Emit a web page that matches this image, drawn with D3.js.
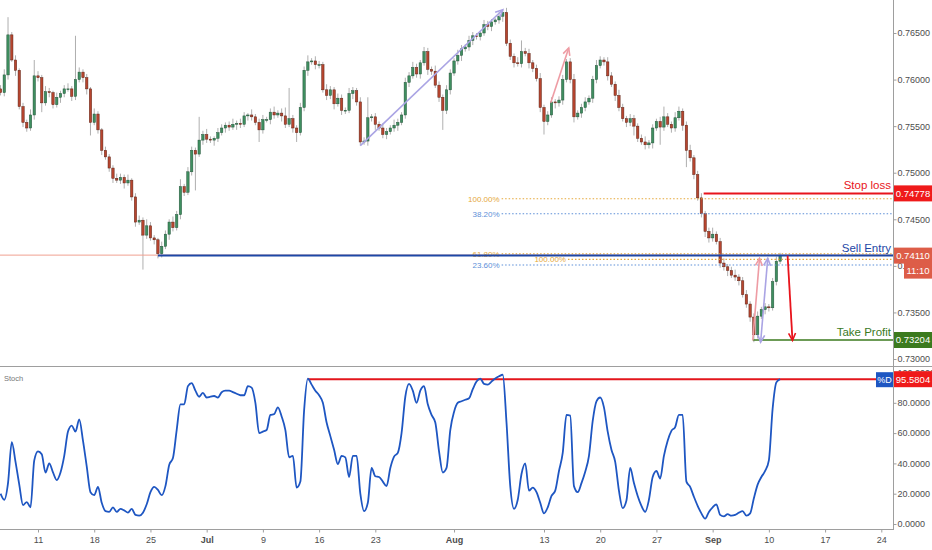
<!DOCTYPE html>
<html>
<head>
<meta charset="utf-8">
<script src="https://cdn.jsdelivr.net/npm/d3@7"></script>
<style>
  html, body { margin: 0; padding: 0; background: #fff; }
  svg { display: block; font-family: "Liberation Sans", Arial, sans-serif; }
</style>
</head>
<body>
<svg id="chart" width="932" height="550"></svg>
<script>
// prices in pips (7586 = 0.75860), one candle every 8h of trading time
const firstOpen = 7590;
const closes = [
  7586,7605,7648,7621,7610,7571,7554,7548,7562,7604,
  7602,7575,7587,7586,7573,7581,7585,7590,7590,7582,
  7600,7608,7602,7590,7554,7563,7546,7524,7517,7505,
  7494,7492,7495,7489,7492,7474,7447,7449,7433,7443,
  7430,7428,7413,7421,7434,7447,7441,7455,7485,7479,
  7501,7524,7520,7535,7541,7536,7535,7537,7543,7548,
  7551,7549,7552,7553,7552,7561,7562,7560,7554,7546,
  7557,7557,7565,7562,7564,7561,7552,7558,7548,7543,
  7570,7610,7619,7620,7616,7616,7589,7583,7589,7574,
  7580,7567,7567,7585,7588,7576,7533,7534,7559,7560,
  7552,7548,7541,7544,7548,7551,7554,7562,7597,7604,
  7613,7606,7618,7630,7611,7609,7594,7581,7567,7589,
  7607,7620,7626,7633,7635,7642,7647,7646,7650,7659,
  7657,7662,7664,7668,7672,7639,7625,7618,7617,7630,
  7628,7618,7612,7601,7570,7555,7562,7576,7575,7578,
  7600,7619,7600,7560,7564,7570,7576,7580,7600,7615,
  7621,7619,7604,7595,7583,7570,7558,7554,7558,7550,
  7537,7533,7530,7532,7548,7555,7549,7560,7552,7548,
  7559,7566,7551,7524,7516,7498,7473,7456,7437,7430,
  7434,7426,7403,7399,7395,7390,7388,7384,7369,7359,
  7345,7326,7346,7353,7356,7355,7383,7405,7411
];
// wick length above / below the body, in pips
const wickHi = [
  4,6,19,3,5,2,4,3,6,17, 5,3,6,4,2,5,3,4,6,3, 47,5,3,4,2,6,3,2,4,3,
  3,5,4,3,6,2,4,5,3,7, 4,3,2,5,4,3,6,4,8,3, 5,4,3,25,4,6,3,2,5,4,
  3,4,6,3,5,4,2,6,3,4, 5,3,4,6,3,5,9,33,4,3, 5,4,7,3,5,4,3,6,4,3,
  5,4,3,6,4,3,5,4,22,3, 4,3,5,4,3,6,4,3,5,4, 6,4,3,5,4,3,6,4,3,5,
  4,3,6,4,3,5,4,3,2,5, 4,3,2,4,3,5,4,3,6,12, 4,5,3,4,6,3,4,5,3,4,
  5,3,4,6,3,4,5,3,4,6, 4,3,5,4,3,6,4,3,5,4, 3,4,6,3,4,3,5,11,4,3,
  6,5,3,4,6,3,4,5,3,4, 7,3,4,5,3,4,6,3,4,5, 3,4,5,3,4,3,4,5,3
];
const wickLo = [
  3,4,5,2,6,3,5,4,3,5, 4,10,3,5,4,3,6,4,3,5, 4,3,5,6,14,3,4,5,3,4,
  5,3,4,6,3,4,5,3,37,4, 3,5,5,4,3,6,4,3,5,4, 3,4,39,3,5,4,3,6,4,3,
  5,4,3,6,4,3,5,4,3,13, 4,3,5,4,3,6,4,3,5,10, 3,4,6,3,5,4,3,5,4,6,
  3,5,4,3,6,4,4,3,5,4, 6,3,4,5,3,4,6,3,4,5, 3,4,5,3,6,4,3,5,21,4,
  5,3,4,6,3,4,5,3,4,3, 4,5,3,4,6,3,4,5,3,4, 3,6,4,3,5,14,4,3,6,4,
  5,3,4,6,3,5,4,3,5,4, 3,4,5,3,6,4,3,5,4,10, 4,3,5,4,6,3,19,4,3,5,
  4,3,6,18,4,5,3,4,6,5, 4,3,5,4,6,3,4,5,3,4, 5,8,4,3,5,4,3,4,3
];
// Stochastic %D, one value per candle
const stochD = [
  20,16,27,54,41,26,12.5,14.5,11,42,
  48,46,34,40,34,29,34,45,61,65,
  61,69,55,38,21,19,24.5,14,8.5,8,
  11,8,10,9,7.5,10,6,5.5,7.5,13,
  21,24.5,22.5,19,25,39,43.5,62,79,79,
  91,93,88,84,86.5,83.5,84,84.5,83.5,87,
  88,88,87,86,85,85,91,90,80,60,
  61,62,72,72.5,77,71,62,44,45,24,
  28,75,96,92,88,85,80,67,58,49,
  39.5,45,44,31,45,45,20,8.5,14,37,
  31.5,31,28,25,37,44.5,47,60,84,92.5,
  88,80,88,91,79,72,67,48,34,37,
  62,74,80,81,82,83,89,94,96,92.5,
  92,94,96,97.5,98.5,67,25,10,16,33,
  40,22,24,21,14,7,11,18.5,22,35,
  47,72,71.5,25,21,27,34.5,45,68,81,
  83.5,77,61,49,41,22,10.5,15.5,37,27,
  18.5,12,8,16,31,35,30,45,55,61.5,
  64,72,72,28,24.5,18,12,7,3.5,8,
  11,13,6,5,6.5,5.5,6,7.5,8.5,5.5,
  7,17,26,31,35,42,76,93.5,95.58
];

// time axis (trading days counted from Mon 11 Jun)
const tickDays   = [0, 5, 10, 15, 20, 25, 30, 37, 45, 50, 55, 60, 65, 70, 75];
const tickLabels = ['11','18','25','Jul','9','16','23','Aug','13','20','27','Sep','10','17','24'];
const monthLabels = ['Jul','Aug','Sep'];

const priceTicks = [7300, 7350, 7400, 7450, 7500, 7550, 7600, 7650];
const stochTicks = [0, 20, 40, 60, 80, 100];

// trade levels
const levelNames  = ['Stop loss', 'Sell Entry', 'Take Profit'];
const levelPrices = [7477.8, 7411.0, 7320.4];
const levelStartK = [187.6, 42, 200.7];
const levelColors = ['#e8141c', '#1d47a6', '#3b7a1e'];
const levelBoxColors = ['#ef1a1a', '#dd5d48', '#3b7a1e'];

// fibonacci levels
const fibLabels = ['100.00%', '38.20%', '61.80%', '100.00%', '23.60%'];
const fibPrices = [7472, 7456, 7413, 7407, 7401];
const fibStartK = [133.7, 133.7, 133.7, 151.4, 133.7];
const fibColors = ['#e5a83a', '#5d8fd8', '#e5a83a', '#e5a83a', '#5d8fd8'];

// drawn arrows (candle index, price)
const arrowFromK = [96, 146.8, 200.7, 202.8, 210];
const arrowFromP = [7529, 7575, 7320, 7318, 7411];
const arrowToK   = [134, 151.6, 202.5, 204.7, 211.3];
const arrowToP   = [7675, 7634, 7408, 7408, 7320];
const arrowColors = ['#aaa4e4', '#ee9ca4', '#ee9ca4', '#aaa4e4', '#e8141c'];
const arrowBoth   = [false, false, false, true, false];

const stochLevel = 95.5804;
const stochLevelStartK = 82;

const W = 932, H = 550, AX = 893;
const START_DAY = -10 / 3;

const svg = d3.select('#chart');
svg.append('rect').attr('width', W).attr('height', H).attr('fill', '#fff');

const x  = d3.scaleLinear().domain([-3.38, 76.04]).range([0, AX]);
const y  = d3.scaleLinear().domain([7300, 7650]).range([359, 33]);
const ys = d3.scaleLinear().domain([0, 100]).range([524, 372.5]);
function kx(k) { return x(START_DAY + k / 3); }

const defs = svg.append('defs');
defs.append('clipPath').attr('id', 'mainClip').append('rect')
    .attr('x', 0).attr('y', 0).attr('width', AX).attr('height', 366);
defs.append('clipPath').attr('id', 'stochClip').append('rect')
    .attr('x', 0).attr('y', 367).attr('width', AX).attr('height', 161);

const main = svg.append('g').attr('clip-path', 'url(#mainClip)');

// ===== candles =====
const candles = closes.map(function (c, i) {
    var o = i ? closes[i - 1] : firstOpen;
    return { k: i, o: o, c: c, h: Math.max(o, c) + wickHi[i], l: Math.min(o, c) - wickLo[i] };
});

main.selectAll('line.wick').data(candles).join('line')
    .attr('class', 'wick')
    .attr('x1', d => kx(d.k)).attr('x2', d => kx(d.k))
    .attr('y1', d => y(d.h)).attr('y2', d => y(d.l))
    .attr('stroke', '#9a9a9a').attr('stroke-width', 0.8);

main.selectAll('rect.body').data(candles).join('rect')
    .attr('class', 'body')
    .attr('x', d => kx(d.k) - 1.2).attr('width', 2.4)
    .attr('y', d => y(Math.max(d.o, d.c)))
    .attr('height', d => Math.max(0.8, Math.abs(y(d.o) - y(d.c))))
    .attr('fill', d => d.c >= d.o ? '#3f8f60' : '#b7452f')
    .attr('stroke', d => d.c >= d.o ? '#24543a' : '#5e2417')
    .attr('stroke-width', 0.5);

// ===== last price line =====
main.append('line')
    .attr('x1', 0).attr('x2', AX)
    .attr('y1', y(closes[closes.length - 1]) - 0.5).attr('y2', y(closes[closes.length - 1]) - 0.5)
    .attr('stroke', '#f0a090').attr('stroke-width', 1);

// ===== fib levels =====
fibPrices.forEach(function (p, i) {
    main.append('line')
        .attr('x1', kx(fibStartK[i])).attr('x2', AX)
        .attr('y1', y(p)).attr('y2', y(p))
        .attr('stroke', fibColors[i]).attr('stroke-width', 1.1)
        .attr('stroke-dasharray', '1.5,2');
    main.append('text')
        .attr('x', kx(fibStartK[i]) - 2).attr('y', y(p) + 3)
        .attr('text-anchor', 'end')
        .attr('font-size', 8).attr('fill', fibColors[i])
        .text(fibLabels[i]);
});

// ===== trade levels =====
levelPrices.forEach(function (p, i) {
    main.append('line')
        .attr('x1', kx(levelStartK[i])).attr('x2', AX)
        .attr('y1', y(p)).attr('y2', y(p))
        .attr('stroke', levelColors[i]).attr('stroke-width', i === 2 ? 1.5 : 2);
    main.append('text')
        .attr('x', 891).attr('y', y(p) - 4)
        .attr('text-anchor', 'end')
        .attr('font-size', 11.5).attr('fill', levelColors[i])
        .text(levelNames[i]);
});

// ===== arrows =====
function chevron(g, x1, y1, x2, y2, color) {
    var a = Math.atan2(y1 - y2, x1 - x2), len = 8, sp = 0.45;
    g.append('path')
        .attr('d', 'M' + (x2 + len * Math.cos(a + sp)) + ',' + (y2 + len * Math.sin(a + sp)) +
                   'L' + x2 + ',' + y2 +
                   'L' + (x2 + len * Math.cos(a - sp)) + ',' + (y2 + len * Math.sin(a - sp)))
        .attr('fill', 'none').attr('stroke', color).attr('stroke-width', 1.6);
}
arrowFromK.forEach(function (k, i) {
    var x1 = kx(k), y1 = y(arrowFromP[i]), x2 = kx(arrowToK[i]), y2 = y(arrowToP[i]);
    main.append('line')
        .attr('x1', x1).attr('y1', y1).attr('x2', x2).attr('y2', y2)
        .attr('stroke', arrowColors[i]).attr('stroke-width', i === 4 ? 1.8 : 1.6);
    chevron(main, x1, y1, x2, y2, arrowColors[i]);
    if (arrowBoth[i]) chevron(main, x2, y2, x1, y1, arrowColors[i]);
});

// ===== stochastic pane =====
const stochG = svg.append('g').attr('clip-path', 'url(#stochClip)');
stochG.append('line')
    .attr('x1', kx(stochLevelStartK)).attr('x2', AX)
    .attr('y1', ys(stochLevel)).attr('y2', ys(stochLevel))
    .attr('stroke', '#e3161c').attr('stroke-width', 2);

const stochLine = d3.line()
    .x((d, i) => kx(i))
    .y(d => ys(d))
    .curve(d3.curveMonotoneX);
stochG.append('path')
    .datum(stochD)
    .attr('d', stochLine)
    .attr('fill', 'none').attr('stroke', '#1e56c2').attr('stroke-width', 1.8);

svg.append('text').attr('x', 4).attr('y', 381)
    .attr('font-size', 7.5).attr('fill', '#777').text('Stoch');

// ===== frame lines =====
svg.append('line').attr('x1', 0).attr('x2', W).attr('y1', 366.5).attr('y2', 366.5)
    .attr('stroke', '#9e9e9e').attr('stroke-width', 1);
svg.append('line').attr('x1', AX + 0.5).attr('x2', AX + 0.5).attr('y1', 0).attr('y2', 529)
    .attr('stroke', '#9e9e9e').attr('stroke-width', 1);

// ===== right axes =====
const priceAxis = d3.axisRight(y).tickValues(priceTicks).tickSize(3)
    .tickFormat(d => (d / 10000).toFixed(5));
const pa = svg.append('g').attr('transform', 'translate(' + (AX + 0.5) + ',0)').call(priceAxis);

const stochAxis = d3.axisRight(ys).tickValues(stochTicks).tickSize(3)
    .tickFormat(d => d.toFixed(4));
const sa = svg.append('g').attr('transform', 'translate(' + (AX + 0.5) + ',0)').call(stochAxis);

[pa, sa].forEach(function (g) {
    g.select('.domain').remove();
    g.selectAll('.tick line').attr('stroke', '#9e9e9e');
    g.selectAll('.tick text').attr('x', 4).attr('fill', '#4d4d4d')
        .attr('font-size', 9).attr('font-family', '"Liberation Sans", Arial, sans-serif');
});

// ===== bottom time axis =====
const timeAxis = d3.axisBottom(x).tickValues(tickDays).tickSize(3)
    .tickFormat((d, i) => tickLabels[i]);
const ta = svg.append('g').attr('transform', 'translate(0,529.5)').call(timeAxis);
ta.select('.domain').attr('d', 'M0,0H' + (AX + 1)).attr('stroke', '#9e9e9e');
ta.selectAll('.tick line').attr('stroke', '#9e9e9e');
ta.selectAll('.tick text')
    .attr('y', 7).attr('fill', '#4d4d4d')
    .attr('font-size', 9).attr('font-family', '"Liberation Sans", Arial, sans-serif')
    .attr('font-weight', (d, i) => monthLabels.indexOf(tickLabels[i]) >= 0 ? 'bold' : 'normal');

// ===== value boxes on the right =====
function valueBox(cy, txt, fill, x0) {
    var bx = x0 || AX + 1;
    svg.append('rect').attr('x', bx).attr('y', cy - 8).attr('width', W - bx).attr('height', 16)
        .attr('fill', fill);
    svg.append('text').attr('x', (bx + W) / 2).attr('y', cy + 3.5)
        .attr('text-anchor', 'middle').attr('fill', '#fff')
        .attr('font-size', 9.5).text(txt);
}
levelPrices.forEach(function (p, i) {
    valueBox(y(p), (p / 10000).toFixed(5), levelBoxColors[i]);
});
valueBox(y(levelPrices[1]) + 15, '11:10', levelBoxColors[1], 904);
valueBox(ys(stochLevel), stochLevel.toFixed(4), '#ef1a1a');

svg.append('rect').attr('x', 876).attr('y', ys(stochLevel) - 7).attr('width', 17).attr('height', 15)
    .attr('fill', '#1e56c2');
svg.append('text').attr('x', 884.5).attr('y', ys(stochLevel) + 4)
    .attr('text-anchor', 'middle').attr('fill', '#fff').attr('font-size', 9).text('%D');
</script>
</body>
</html>
